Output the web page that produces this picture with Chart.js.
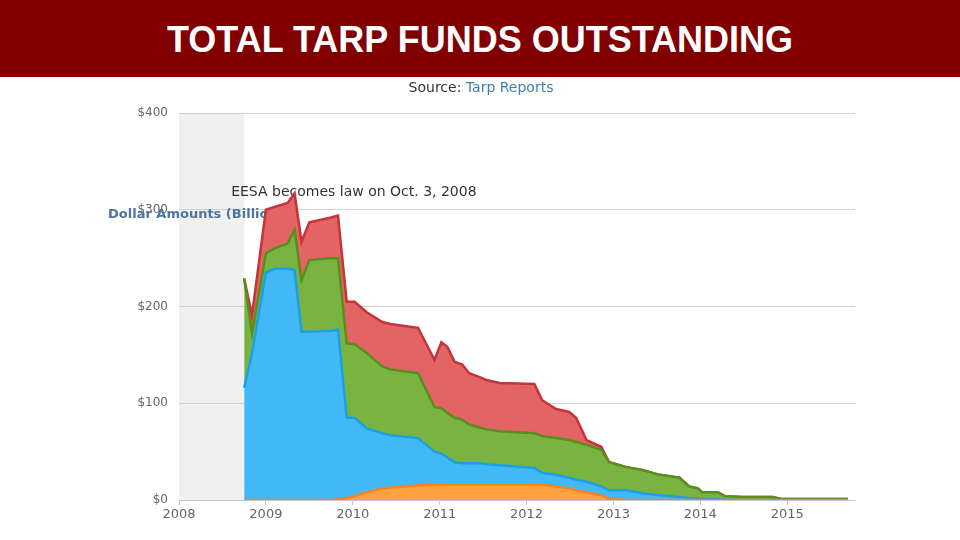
<!DOCTYPE html>
<html>
<head>
<meta charset="utf-8">
<script src="https://cdn.jsdelivr.net/npm/chart.js@4"></script>
<style>
  html, body { margin: 0; padding: 0; background: #fff; }
  #wrap { position: relative; width: 960px; height: 540px; }
  #header {
    position: absolute; left: 0; top: 0; width: 960px; height: 77px;
    background: #800000; color: #fff;
    font: bold 36px "Liberation Sans", Arial, sans-serif;
    text-align: center; line-height: 80px; z-index: 2;
  }
  canvas { position: absolute; left: 0; top: 0; }
</style>
</head>
<body>
<div id="wrap">
  <div id="header">TOTAL TARP FUNDS OUTSTANDING</div>
  <canvas id="myChart" width="960" height="540"></canvas>
</div>
<script>
// dates as decimal years
const dates = [2008.75, 2008.84, 2009.00, 2009.10, 2009.25, 2009.33, 2009.41, 2009.50, 2009.75, 2009.83,
  2009.93, 2010.02, 2010.16, 2010.34, 2010.43, 2010.75, 2010.94, 2011.02, 2011.09, 2011.17,
  2011.26, 2011.34, 2011.46, 2011.54, 2011.69, 2012.09, 2012.18, 2012.34, 2012.49, 2012.57,
  2012.69, 2012.86, 2012.95, 2013.15, 2013.33, 2013.53, 2013.76, 2013.87, 2013.97, 2014.02,
  2014.20, 2014.28, 2014.48, 2014.83, 2014.93, 2015.70];

// outstanding amounts, $ billions (stacked bottom to top)
const housing = [0, 0, 0, 0, 0, 0, 0, 0, 0, 1,
  2, 4, 8, 12, 13, 15, 16, 16, 16, 16,
  16, 16, 16, 16, 16, 16, 16, 14, 12, 10,
  8, 5, 1, 0, 0, 0, 0, 0, 0, 0,
  0, 0, 0, 0, 0, 0];
const banks = [116, 152, 235, 239, 239, 238, 174, 174, 175, 175,
  83, 81, 66, 57, 54, 49, 34, 32, 28, 23,
  22, 22, 22, 21, 20, 17, 12, 12, 11, 11,
  11, 9, 9, 10, 7, 5, 3, 2, 1.5, 1,
  1, 0.5, 0, 0, 0, 0];
const autos = [113, 20, 20, 21, 26, 41, 53, 74, 75, 74,
  77, 76, 78, 69, 68, 67, 46, 47, 46, 46,
  45, 40, 37, 36, 35, 36, 38, 38, 39, 39,
  38, 38, 29, 24, 24, 21, 20, 12, 10.5, 7,
  7, 3.5, 3, 3, 1, 1];
const aig = [0, 19, 45, 43, 42, 38, 40, 39, 42, 44,
  43, 44, 42, 46, 47, 47, 49, 68, 68, 58,
  57, 53, 52, 51, 50, 51, 37, 30, 29, 25,
  5, 3, 0, 0, 0, 0, 0, 0, 0, 0,
  0, 0, 0, 0, 0, 0];

const yTicks = [0, 100, 200, 300, 400];
const xTicks = [2008, 2009, 2010, 2011, 2012, 2013, 2014, 2015];
const eesaDate = 2008.75;

const toPoints = arr => arr.map((v, i) => ({ x: dates[i], y: v }));

const series = [
  { label: 'Housing', data: housing, bg: 'rgb(255,162,66)', line: 'rgb(244,132,40)' },
  { label: 'Banks', data: banks, bg: 'rgb(66,184,247)', line: 'rgb(28,160,228)' },
  { label: 'Autos', data: autos, bg: 'rgb(122,180,64)', line: 'rgb(88,142,30)' },
  { label: 'AIG', data: aig, bg: 'rgb(226,100,100)', line: 'rgb(198,52,58)' }
];

const bandAndText = {
  id: 'bandAndText',
  beforeDraw(chart) {
    const { ctx, chartArea, scales } = chart;
    const x0 = scales.x.getPixelForValue(2008);
    const x1 = scales.x.getPixelForValue(eesaDate);
    ctx.save();
    ctx.fillStyle = '#f0f0f0';
    ctx.fillRect(x0, chartArea.top, x1 - x0, chartArea.bottom - chartArea.top);
    ctx.restore();
  },
  beforeDatasetsDraw(chart) {
    const { ctx, scales } = chart;
    ctx.save();
    ctx.textBaseline = 'middle';
    ctx.textAlign = 'left';
    ctx.font = '14px "DejaVu Sans", Verdana, sans-serif';
    ctx.fillStyle = '#333';
    ctx.fillText('EESA becomes law on Oct. 3, 2008', scales.x.getPixelForValue(eesaDate) - 13, scales.y.getPixelForValue(300) - 17);
    ctx.font = 'bold 13px "DejaVu Sans", Verdana, sans-serif';
    ctx.fillStyle = '#4d759e';
    ctx.fillText('Dollar Amounts (Billions)', 108, scales.y.getPixelForValue(300) + 5);
    // source line
    ctx.font = '14px "DejaVu Sans", Verdana, sans-serif';
    const a = 'Source: ', b = 'Tarp Reports';
    const w = ctx.measureText(a).width + ctx.measureText(b).width;
    const sx = 481 - w / 2;
    ctx.fillStyle = '#333';
    ctx.fillText(a, sx, 88);
    ctx.fillStyle = '#3e7db0';
    ctx.fillText(b, sx + ctx.measureText(a).width, 88);
    ctx.restore();
  }
};

const ctx = document.getElementById('myChart').getContext('2d');
new Chart(ctx, {
  type: 'line',
  data: {
    datasets: series.map((s, i) => ({
      label: s.label,
      data: toPoints(s.data),
      backgroundColor: s.bg,
      borderColor: s.line,
      borderWidth: 2.5,
      pointRadius: 0,
      tension: 0,
      fill: i === 0 ? 'origin' : '-1'
    }))
  },
  options: {
    responsive: false,
    animation: false,
    layout: { padding: { top: 113, right: 105, bottom: 0, left: 0 } },
    plugins: { legend: { display: false }, tooltip: { enabled: false } },
    scales: {
      x: {
        type: 'linear',
        min: 2008,
        max: 2015.78,
        afterBuildTicks: scale => { scale.ticks = xTicks.map(v => ({ value: v })); },
        afterFit: scale => { scale.height = 40; },
        ticks: {
          callback: v => String(v),
          color: '#666',
          font: { family: '"DejaVu Sans", Verdana, sans-serif', size: 13 },
          padding: 2,
          maxRotation: 0
        },
        grid: { drawOnChartArea: false, tickLength: 5, color: '#c8c8c8' },
        border: { color: '#c8c8c8' }
      },
      y: {
        stacked: true,
        min: 0,
        max: 400,
        afterBuildTicks: scale => { scale.ticks = yTicks.map(v => ({ value: v })); },
        afterFit: scale => { scale.width = 179; },
        ticks: {
          callback: v => '$' + v,
          color: '#666',
          font: { family: '"DejaVu Sans", Verdana, sans-serif', size: 12 },
          padding: 11
        },
        grid: { drawTicks: false, color: '#d0d0d0' },
        border: { display: false }
      }
    }
  },
  plugins: [bandAndText]
});
</script>
</body>
</html>
